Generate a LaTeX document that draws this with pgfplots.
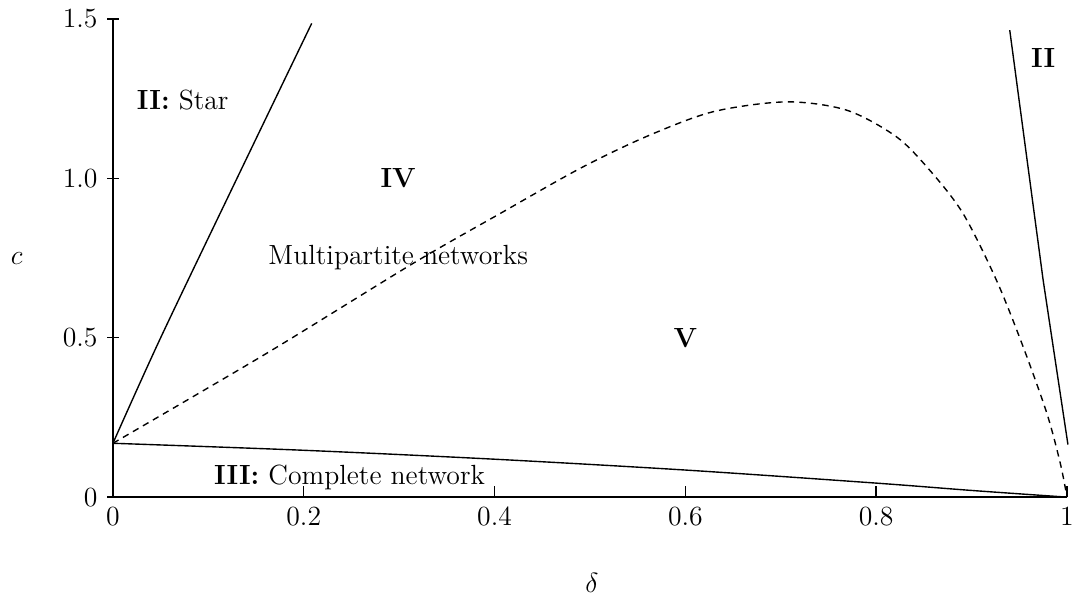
\documentclass[border=0pt,12pt]{standalone}
\usepackage{pgfplots}
\pgfplotsset{compat=1.18}

\begin{document}
\begin{tikzpicture}
\begin{axis}[
    scale only axis,
    width=413pt, height=207pt,
    xmin=0, xmax=1,
    ymin=0, ymax=1.5,
    axis lines*=left,
    xtick={0,0.2,0.4,0.6,0.8,1},
    xticklabels={0,0.2,0.4,0.6,0.8,1},
    ytick={0,0.5,1,1.5},
    yticklabels={0,0.5,1.0,1.5},
    xtick align=inside,
    ytick align=center,
    major tick length=5pt,
    tick style={black, semithick},
    axis line style={semithick},
    xticklabel style={inner sep=0pt, yshift=-4pt},
    xlabel={$\delta$},
    ylabel={$c$},
    xlabel style={at={(axis description cs:0.502,-0.18)}, anchor=center, inner sep=0pt},
    ylabel style={at={(axis description cs:-0.101,0.5)}, anchor=center, rotate=-90, inner sep=0pt},
    clip=false,
]

% region boundaries
\addplot[black, semithick, smooth] coordinates {
    (0,0.169)(0.05,0.50)(0.13,1.0)(0.2083,1.486)};

\addplot[black, semithick, smooth] coordinates {
    (0,0.169)(0.2,0.147)(0.4,0.119)(0.6,0.085)(0.8,0.044)(0.9,0.021)(1,0)};

\addplot[black, semithick] coordinates {
    (0.940,1.465)(0.975,0.681)(1.001,0.165)};

\addplot[black, semithick, smooth, dash pattern=on 2.8pt off 2.2pt] coordinates {
    (0,0.169)(0.161,0.451)(0.315,0.734)(0.406,0.890)(0.4895,1.031)
    (0.559,1.131)(0.629,1.209)(0.706,1.240)(0.769,1.214)(0.821,1.131)(0.856,1.026)
    (0.891,0.890)(0.926,0.681)(0.954,0.472)(0.979,0.262)(0.993,0.106)(1,0)};

% region labels
\node[anchor=west] at (axis cs:0.015,1.245) {\textbf{II:} Star};
\node at (axis cs:0.299,1.0) {\textbf{IV}};
\node at (axis cs:0.299,0.753) {Multipartite networks};
\node at (axis cs:0.600,0.5) {\textbf{V}};
\node at (axis cs:0.248,0.063) {\textbf{III:} Complete network};
\node at (axis cs:0.975,1.378) {\textbf{II}};

% frame of the reference picture
\path (axis description cs:-0.1184,1.0397) -- (axis description cs:1.0084,-0.2155);
\end{axis}
\end{tikzpicture}
\end{document}
